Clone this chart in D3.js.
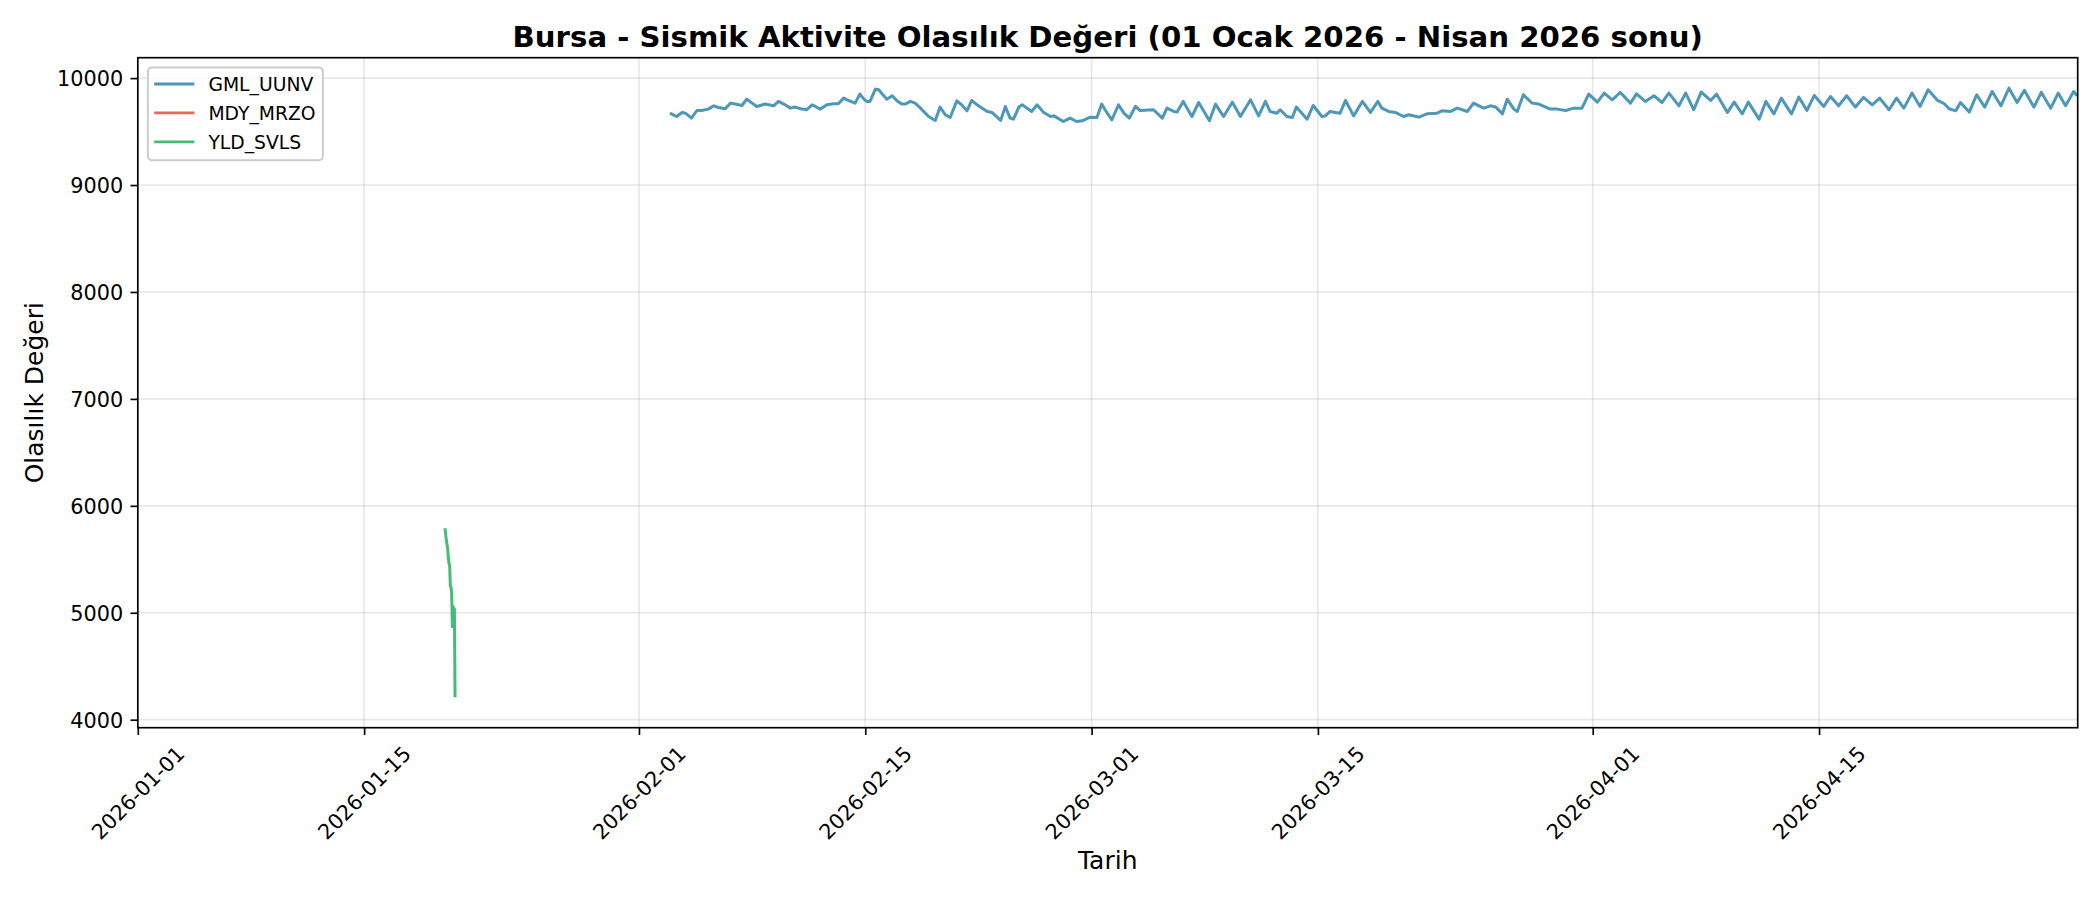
<!DOCTYPE html>
<html>
<head>
<meta charset="utf-8">
<script src="https://cdn.jsdelivr.net/npm/d3@7"></script>
<style>
  html, body { margin: 0; padding: 0; background: #fff; }
  svg { display: block; font-family: "DejaVu Sans", sans-serif; }
</style>
</head>
<body>
<svg id="chart" width="2100" height="900"></svg>
<script>
// ---------------- DATA ----------------
const titleText = "Bursa - Sismik Aktivite Olasılık Değeri (01 Ocak 2026 - Nisan 2026 sonu)";
const xLabelText = "Tarih";
const yLabelText = "Olasılık Değeri";

const xDomain = ["2026-01-01 00", "2026-05-01 00"];
const xTickDates = ["2026-01-01", "2026-01-15", "2026-02-01", "2026-02-15", "2026-03-01", "2026-03-15", "2026-04-01", "2026-04-15"];
const yTickValues = [4000, 5000, 6000, 7000, 8000, 9000, 10000];

const seriesNames = ["GML_UUNV", "MDY_MRZO", "YLD_SVLS"];
const seriesColors = ["#2E86AB", "#E74C3C", "#27AE60"];

const gmlTimes = [
  "2026-02-02 22","2026-02-03 08","2026-02-03 16","2026-02-03 21","2026-02-04 06","2026-02-04 14","2026-02-04 21","2026-02-05 07","2026-02-05 15","2026-02-05 22",
  "2026-02-06 08","2026-02-06 16","2026-02-06 23","2026-02-07 09","2026-02-07 16","2026-02-08 00","2026-02-08 07","2026-02-08 19","2026-02-09 08","2026-02-09 15",
  "2026-02-09 23","2026-02-10 09","2026-02-10 16","2026-02-11 00","2026-02-11 09","2026-02-11 17","2026-02-11 22","2026-02-12 05","2026-02-12 15","2026-02-13 01",
  "2026-02-13 08","2026-02-13 16","2026-02-13 21","2026-02-14 09","2026-02-14 16","2026-02-14 22","2026-02-15 02","2026-02-15 07","2026-02-15 15","2026-02-15 20",
  "2026-02-16 01","2026-02-16 08","2026-02-16 16","2026-02-16 23","2026-02-17 06","2026-02-17 11","2026-02-17 19","2026-02-18 02","2026-02-18 10","2026-02-18 22",
  "2026-02-19 08","2026-02-19 15","2026-02-19 23","2026-02-20 06","2026-02-20 16","2026-02-21 00","2026-02-21 07","2026-02-21 14","2026-02-21 22","2026-02-22 13",
  "2026-02-22 20","2026-02-23 09","2026-02-23 16","2026-02-23 23","2026-02-24 04","2026-02-24 12","2026-02-24 17","2026-02-25 07","2026-02-25 15","2026-02-26 01",
  "2026-02-26 11","2026-02-26 16","2026-02-27 06","2026-02-27 16","2026-02-28 02","2026-02-28 10","2026-02-28 22","2026-03-01 08","2026-03-01 15","2026-03-01 20",
  "2026-03-02 06","2026-03-02 16","2026-03-03 00","2026-03-03 08","2026-03-03 17","2026-03-04 00","2026-03-04 20","2026-03-05 09","2026-03-05 16","2026-03-06 02",
  "2026-03-06 07","2026-03-06 16","2026-03-07 05","2026-03-07 15","2026-03-08 07","2026-03-08 16","2026-03-09 04","2026-03-09 17","2026-03-10 05","2026-03-10 20",
  "2026-03-11 08","2026-03-11 18","2026-03-12 01","2026-03-12 11","2026-03-12 16","2026-03-13 02","2026-03-13 10","2026-03-13 16","2026-03-14 08","2026-03-14 17",
  "2026-03-15 06","2026-03-15 11","2026-03-15 18","2026-03-16 02","2026-03-16 09","2026-03-16 17","2026-03-17 05","2026-03-17 18","2026-03-18 06","2026-03-18 17",
  "2026-03-18 23","2026-03-19 09","2026-03-19 19","2026-03-20 07","2026-03-20 15","2026-03-21 06","2026-03-21 18","2026-03-22 09","2026-03-22 16","2026-03-23 05",
  "2026-03-23 15","2026-03-24 06","2026-03-24 15","2026-03-25 06","2026-03-25 16","2026-03-26 00","2026-03-26 10","2026-03-26 17","2026-03-27 03","2026-03-27 08",
  "2026-03-27 17","2026-03-28 06","2026-03-28 16","2026-03-29 09","2026-03-29 19","2026-03-30 08","2026-03-30 20","2026-03-31 08","2026-03-31 18","2026-04-01 07",
  "2026-04-01 17","2026-04-02 05","2026-04-02 17","2026-04-03 08","2026-04-03 17","2026-04-04 06","2026-04-04 19","2026-04-05 07","2026-04-05 17","2026-04-06 08",
  "2026-04-06 18","2026-04-07 06","2026-04-07 17","2026-04-08 07","2026-04-08 16","2026-04-09 08","2026-04-09 18","2026-04-10 06","2026-04-10 15","2026-04-11 07",
  "2026-04-11 17","2026-04-12 05","2026-04-12 16","2026-04-13 07","2026-04-13 18","2026-04-14 06","2026-04-14 17","2026-04-15 07","2026-04-15 17","2026-04-16 05",
  "2026-04-16 17","2026-04-17 06","2026-04-17 18","2026-04-18 07","2026-04-18 18","2026-04-19 08","2026-04-19 19","2026-04-20 06","2026-04-20 18","2026-04-21 06",
  "2026-04-21 18","2026-04-22 08","2026-04-22 18","2026-04-23 01","2026-04-23 11","2026-04-23 18","2026-04-24 07","2026-04-24 18","2026-04-25 06","2026-04-25 17",
  "2026-04-26 06","2026-04-26 18","2026-04-27 06","2026-04-27 17","2026-04-28 07","2026-04-28 18","2026-04-29 08","2026-04-29 19","2026-04-30 06","2026-04-30 18",
  "2026-04-30 23"
];
const gmlValues = [
  9672,9641,9679,9672,9626,9697,9697,9710,9741,9725,
  9713,9766,9757,9744,9803,9766,9735,9757,9741,9782,
  9757,9719,9729,9713,9704,9750,9735,9710,9750,9760,
  9760,9813,9797,9766,9850,9803,9782,9782,9897,9891,
  9853,9803,9835,9788,9757,9757,9782,9766,9719,9641,
  9604,9729,9657,9632,9788,9744,9694,9791,9750,9688,
  9679,9604,9735,9626,9616,9729,9750,9688,9750,9679,
  9641,9647,9594,9626,9594,9601,9635,9632,9757,9704,
  9610,9750,9672,9626,9735,9697,9704,9626,9719,9688,
  9682,9782,9641,9772,9601,9757,9641,9775,9641,9797,
  9647,9782,9688,9672,9704,9641,9632,9729,9616,9744,
  9641,9647,9688,9679,9672,9791,9647,9782,9679,9782,
  9719,9688,9679,9641,9657,9635,9666,9672,9694,9688,
  9719,9688,9766,9719,9741,9729,9666,9803,9710,9688,
  9844,9766,9757,9710,9710,9697,9719,9719,9850,9775,
  9860,9797,9866,9766,9853,9782,9835,9772,9860,9741,
  9860,9704,9869,9791,9850,9679,9775,9666,9775,9616,
  9782,9666,9813,9666,9822,9697,9838,9735,9828,9741,
  9835,9729,9819,9750,9813,9704,9813,9719,9860,9735,
  9891,9791,9760,9713,9694,9772,9682,9844,9729,9875,
  9741,9906,9772,9885,9729,9866,9719,9860,9741,9875,
  9835
];

const mdyTimes = [];
const mdyValues = [];

const yldTimes = [
  "2026-01-20 00","2026-01-20 01","2026-01-20 02","2026-01-20 03","2026-01-20 04","2026-01-20 05","2026-01-20 06","2026-01-20 07",
  "2026-01-20 08","2026-01-20 09","2026-01-20 10","2026-01-20 11","2026-01-20 12","2026-01-20 13","2026-01-20 14","2026-01-20 15"
];
const yldValues = [5790, 5740, 5680, 5640, 5600, 5520, 5460, 5440, 5250, 5240, 5180, 4870, 5060, 4950, 5040, 4210];

// ---------------- BUILD ----------------
const parseT = d3.utcParse("%Y-%m-%d %H");
const parseD = d3.utcParse("%Y-%m-%d");
const fmtD = d3.utcFormat("%Y-%m-%d");

const series = [
  { name: seriesNames[0], color: seriesColors[0], pts: gmlTimes.map((t, i) => ({ t: parseT(t), v: gmlValues[i] })) },
  { name: seriesNames[1], color: seriesColors[1], pts: mdyTimes.map((t, i) => ({ t: parseT(t), v: mdyValues[i] })) },
  { name: seriesNames[2], color: seriesColors[2], pts: yldTimes.map((t, i) => ({ t: parseT(t), v: yldValues[i] })) }
];

const W = 2100, H = 900;
const m = { left: 137.8, right: 2077.7, top: 57.7, bottom: 727.7 };
const svg = d3.select("#chart");

const allVals = series.flatMap(s => s.pts.map(p => p.v));
const [vmin, vmax] = d3.extent(allVals);
const pad = (vmax - vmin) * 0.05;

const x = d3.scaleUtc().domain(xDomain.map(parseT)).range([m.left, m.right]);
const y = d3.scaleLinear().domain([vmin - pad, vmax + pad]).range([m.bottom, m.top]);

svg.append("rect").attr("width", W).attr("height", H).attr("fill", "#fff");

svg.append("defs").append("clipPath").attr("id", "clip")
  .append("rect").attr("x", m.left).attr("y", m.top)
  .attr("width", m.right - m.left).attr("height", m.bottom - m.top);

// grid
const grid = svg.append("g");
grid.selectAll("line.gx").data(xTickDates.map(parseD)).enter().append("line")
  .attr("x1", d => x(d)).attr("x2", d => x(d)).attr("y1", m.top).attr("y2", m.bottom)
  .attr("stroke", "#b0b0b0").attr("stroke-opacity", 0.3).attr("stroke-width", 1.67);
grid.selectAll("line.gy").data(yTickValues).enter().append("line")
  .attr("x1", m.left).attr("x2", m.right).attr("y1", d => y(d)).attr("y2", d => y(d))
  .attr("stroke", "#b0b0b0").attr("stroke-opacity", 0.3).attr("stroke-width", 1.67);

// lines
const line = d3.line().x(d => x(d.t)).y(d => y(d.v));
const plot = svg.append("g").attr("clip-path", "url(#clip)");
series.forEach(s => {
  if (s.pts.length === 0) return;
  plot.append("path").datum(s.pts).attr("d", line)
    .attr("fill", "none").attr("stroke", s.color).attr("stroke-opacity", 0.85)
    .attr("stroke-width", 3.0).attr("stroke-linejoin", "round").attr("stroke-linecap", "butt");
});

// axes
const xAxis = d3.axisBottom(x).tickValues(xTickDates.map(parseD)).tickFormat(fmtD)
  .tickSize(7.3).tickPadding(7.3);
const gx = svg.append("g").attr("transform", `translate(0,${m.bottom})`).call(xAxis);
gx.select(".domain").remove();
gx.selectAll(".tick line").attr("stroke", "#000").attr("stroke-width", 1.67);
gx.selectAll(".tick text")
  .attr("font-size", 20.8).attr("fill", "#000").attr("font-family", "DejaVu Sans")
  .attr("text-anchor", "middle").attr("dominant-baseline", "central")
  .attr("y", 0).attr("dy", null)
  .attr("transform", "translate(0,65.3) rotate(-45)");

const yAxis = d3.axisLeft(y).tickValues(yTickValues).tickFormat(d3.format("d"))
  .tickSize(7.3).tickPadding(7.3);
const gy = svg.append("g").attr("transform", `translate(${m.left},0)`).call(yAxis);
gy.select(".domain").remove();
gy.selectAll(".tick line").attr("stroke", "#000").attr("stroke-width", 1.67);
gy.selectAll(".tick text").attr("font-size", 20.8).attr("fill", "#000")
  .attr("font-family", "DejaVu Sans").attr("dy", "0.36em");

// spines
svg.append("rect").attr("x", m.left).attr("y", m.top)
  .attr("width", m.right - m.left).attr("height", m.bottom - m.top)
  .attr("fill", "none").attr("stroke", "#000").attr("stroke-width", 1.67);

// title and labels
svg.append("text").attr("x", (m.left + m.right) / 2).attr("y", 46.5)
  .attr("text-anchor", "middle").attr("font-size", 29.2).attr("font-weight", "bold")
  .attr("fill", "#000").text(titleText);
svg.append("text").attr("x", (m.left + m.right) / 2).attr("y", 868.5)
  .attr("text-anchor", "middle").attr("font-size", 25).attr("fill", "#000").text(xLabelText);
svg.append("text").attr("transform", `translate(34,${(m.top + m.bottom) / 2}) rotate(-90)`)
  .attr("text-anchor", "middle").attr("dominant-baseline", "central")
  .attr("font-size", 25).attr("fill", "#000").text(yLabelText);

// legend
const lg = svg.append("g").attr("transform", `translate(${m.left + 10.1},${m.top + 9.8})`);
lg.append("rect").attr("width", 175).attr("height", 92.7).attr("rx", 4).attr("ry", 4)
  .attr("fill", "#fff").attr("fill-opacity", 0.8)
  .attr("stroke", "#cccccc").attr("stroke-width", 2);
series.forEach((s, i) => {
  const yy = 16.5 + i * 28.9;
  lg.append("line").attr("x1", 6.3).attr("x2", 46.5).attr("y1", yy).attr("y2", yy)
    .attr("stroke", s.color).attr("stroke-opacity", 0.85).attr("stroke-width", 2.8);
  lg.append("text").attr("x", 60.5).attr("y", yy).attr("dy", "0.36em")
    .attr("font-size", 18.75).attr("fill", "#000").text(s.name);
});
</script>
</body>
</html>
